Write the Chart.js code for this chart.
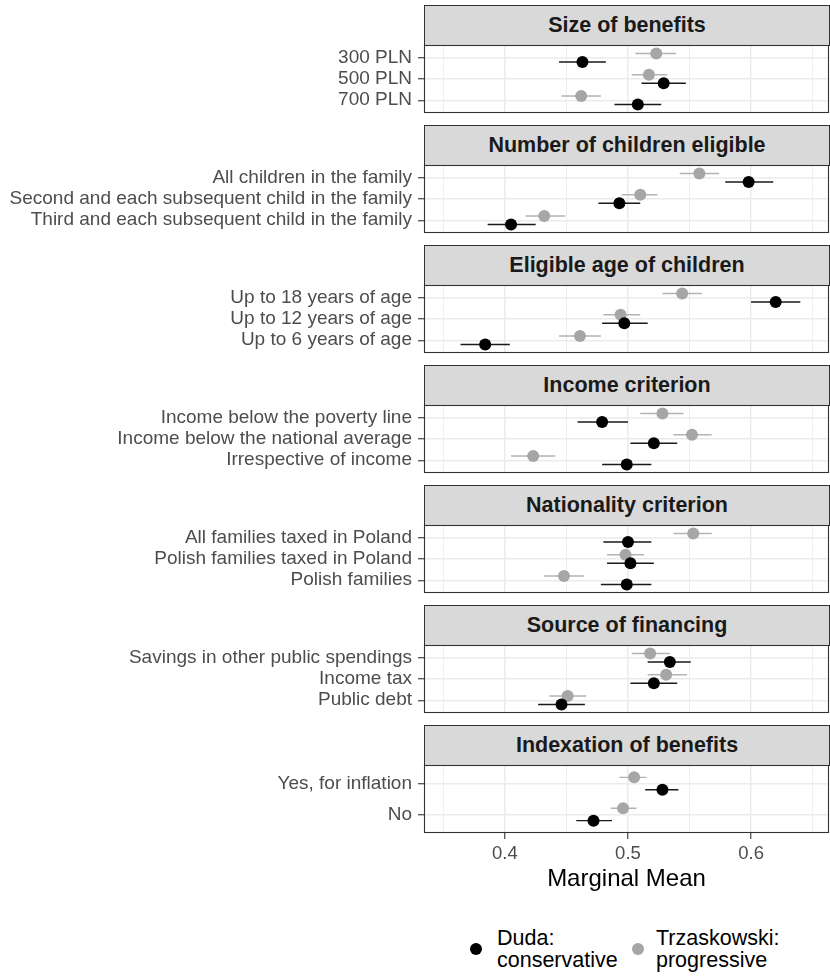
<!DOCTYPE html>
<html>
<head>
<meta charset="utf-8">
<script src="https://cdn.jsdelivr.net/npm/chart.js@4.4.0/dist/chart.umd.min.js"></script>
<style>
  body { margin: 0; background: #fff; font-family: "Liberation Sans", Arial, sans-serif; }
  #wrap { position: relative; width: 830px; height: 976px; overflow: hidden; }
  .strip {
    position: absolute; left: 424px; width: 406px; height: 41px; box-sizing: border-box;
    background: #d9d9d9; border: 1px solid #333; color: #1a1a1a;
    font-weight: bold; font-size: 21.5px; line-height: 38px; text-align: center;
  }
  .panel { position: absolute; left: 0; }
  .dot { position: absolute; width: 12px; height: 12px; border-radius: 50%; }
  .leg { position: absolute; font-size: 21.5px; line-height: 22px; color: #000; white-space: nowrap; }
</style>
</head>
<body>
<div id="wrap"></div>
<script>
// facet titles and attribute levels (top to bottom)
var panelTitles = ['Size of benefits', 'Number of children eligible', 'Eligible age of children',
    'Income criterion', 'Nationality criterion', 'Source of financing', 'Indexation of benefits'];

var levelLabels = [
    ['300 PLN', '500 PLN', '700 PLN'],
    ['All children in the family', 'Second and each subsequent child in the family', 'Third and each subsequent child in the family'],
    ['Up to 18 years of age', 'Up to 12 years of age', 'Up to 6 years of age'],
    ['Income below the poverty line', 'Income below the national average', 'Irrespective of income'],
    ['All families taxed in Poland', 'Polish families taxed in Poland', 'Polish families'],
    ['Savings in other public spendings', 'Income tax', 'Public debt'],
    ['Yes, for inflation', 'No']
];

// Duda: conservative
var dudaMean = [[0.463, 0.529, 0.508], [0.598, 0.493, 0.405], [0.620, 0.497, 0.384],
    [0.479, 0.521, 0.499], [0.500, 0.502, 0.499], [0.534, 0.521, 0.446], [0.528, 0.472]];
var dudaLow = [[0.444, 0.511, 0.489], [0.579, 0.476, 0.386], [0.600, 0.479, 0.364],
    [0.459, 0.502, 0.479], [0.480, 0.483, 0.478], [0.516, 0.502, 0.427], [0.514, 0.458]];
var dudaHigh = [[0.482, 0.547, 0.527], [0.618, 0.510, 0.425], [0.640, 0.516, 0.404],
    [0.500, 0.540, 0.519], [0.519, 0.521, 0.519], [0.551, 0.540, 0.465], [0.541, 0.487]];

// Trzaskowski: progressive
var trzMean = [[0.523, 0.517, 0.462], [0.558, 0.510, 0.432], [0.544, 0.494, 0.461],
    [0.528, 0.552, 0.423], [0.553, 0.498, 0.448], [0.518, 0.531, 0.451], [0.505, 0.496]];
var trzLow = [[0.506, 0.503, 0.446], [0.542, 0.495, 0.417], [0.528, 0.480, 0.444],
    [0.510, 0.537, 0.405], [0.537, 0.483, 0.432], [0.503, 0.516, 0.436], [0.493, 0.486]];
var trzHigh = [[0.539, 0.532, 0.478], [0.574, 0.524, 0.449], [0.560, 0.510, 0.478],
    [0.545, 0.568, 0.441], [0.568, 0.513, 0.464], [0.534, 0.548, 0.466], [0.515, 0.507]];

var xTicks = [0.35, 0.4, 0.45, 0.5, 0.55, 0.6, 0.65];
var xMin = 0.3343, xMax = 0.6633;
var dodge = 0.2;

function isMajor(v) {
    return Math.abs(v * 10 - Math.round(v * 10)) < 1e-6;
}

// grey20 border round each panel
var panelBorder = {
    id: 'panelBorder',
    afterDraw: function (chart) {
        var a = chart.chartArea, c = chart.ctx;
        c.save();
        c.strokeStyle = '#333';
        c.lineWidth = 1.1;
        c.strokeRect(a.left + 0.5, a.top + 0.5, a.right - a.left - 1, a.bottom - a.top - 1);
        c.restore();
    }
};

var wrap = document.getElementById('wrap');

for (let i = 0; i < panelTitles.length; i++) {
    let labels = levelLabels[i];
    let n = labels.length;
    let last = i == panelTitles.length - 1;
    let plotTop = 45 + 120 * i;

    let strip = document.createElement('div');
    strip.className = 'strip';
    strip.style.top = (plotTop - 40) + 'px';
    strip.textContent = panelTitles[i];
    wrap.appendChild(strip);

    let canvas = document.createElement('canvas');
    canvas.className = 'panel';
    canvas.width = 830;
    canvas.height = last ? 70 + 61 : 72;
    canvas.style.top = (plotTop - 2) + 'px';
    wrap.appendChild(canvas);

    let dudaPts = [], dudaCI = [], trzPts = [], trzCI = [];
    for (let j = 0; j < n; j++) {
        let yd = j + 1 + dodge, yt = j + 1 - dodge;
        dudaPts.push({ x: dudaMean[i][j], y: yd });
        dudaCI.push({ x: dudaLow[i][j], y: yd }, { x: dudaHigh[i][j], y: yd }, { x: null, y: null });
        trzPts.push({ x: trzMean[i][j], y: yt });
        trzCI.push({ x: trzLow[i][j], y: yt }, { x: trzHigh[i][j], y: yt }, { x: null, y: null });
    }

    new Chart(canvas.getContext('2d'), {
        type: 'line',
        data: {
            datasets: [
                { data: dudaPts, showLine: false, pointRadius: 6, pointBackgroundColor: '#000', pointBorderColor: '#000', pointBorderWidth: 0 },
                { data: dudaCI, borderColor: '#1a1a1a', borderWidth: 1.4, pointRadius: 0, spanGaps: false, fill: false },
                { data: trzPts, showLine: false, pointRadius: 6, pointBackgroundColor: '#a6a6a6', pointBorderColor: '#a6a6a6', pointBorderWidth: 0 },
                { data: trzCI, borderColor: '#b3b3b3', borderWidth: 1.4, pointRadius: 0, spanGaps: false, fill: false }
            ]
        },
        options: {
            responsive: false,
            animation: false,
            layout: { autoPadding: false, padding: { top: 2, right: 1, bottom: last ? 0 : 2, left: 0 } },
            plugins: { legend: { display: false }, tooltip: { enabled: false } },
            scales: {
                x: {
                    type: 'linear',
                    min: xMin,
                    max: xMax,
                    afterBuildTicks: function (s) { s.ticks = xTicks.map(function (v) { return { value: v }; }); },
                    afterFit: function (s) {
                        s.height = last ? 61 : 0;
                        s.paddingLeft = 0; s.paddingRight = 0; s.paddingTop = 0; s.paddingBottom = 0;
                    },
                    ticks: {
                        display: last,
                        autoSkip: false,
                        maxRotation: 0,
                        padding: 4,
                        color: '#4d4d4d',
                        font: { family: '"Liberation Sans", Arial, sans-serif', size: 18.5 },
                        callback: function (v) { return isMajor(v) ? v.toFixed(1) : ''; }
                    },
                    grid: {
                        color: '#ebebeb',
                        lineWidth: function (ctx) { return isMajor(ctx.tick.value) ? 1.5 : 0.8; },
                        drawTicks: last,
                        tickLength: 6,
                        tickWidth: 1.1,
                        tickColor: function (ctx) { return isMajor(ctx.tick.value) ? '#333' : 'rgba(0,0,0,0)'; }
                    },
                    border: { display: false },
                    title: {
                        display: last,
                        text: 'Marginal Mean',
                        color: '#000',
                        padding: { top: 0, bottom: 0 },
                        font: { family: '"Liberation Sans", Arial, sans-serif', size: 24 }
                    }
                },
                y: {
                    type: 'linear',
                    reverse: true,
                    min: 0.4,
                    max: n + 0.6,
                    afterBuildTicks: function (s) { s.ticks = labels.map(function (l, j) { return { value: j + 1 }; }); },
                    afterFit: function (s) {
                        s.width = 424;
                        s.paddingLeft = 0; s.paddingRight = 0; s.paddingTop = 0; s.paddingBottom = 0;
                    },
                    ticks: {
                        autoSkip: false,
                        padding: 6,
                        color: '#4d4d4d',
                        font: { family: '"Liberation Sans", Arial, sans-serif', size: 19 },
                        callback: function (v, idx) { return labels[idx]; }
                    },
                    grid: { color: '#ebebeb', lineWidth: 1.5, tickLength: 6, tickWidth: 1.1, tickColor: '#333' },
                    border: { display: false }
                }
            }
        },
        plugins: [panelBorder]
    });
}

// legend at the bottom
var legendItems = [
    { color: '#000', dotLeft: 470, textLeft: 497, text: ['Duda:', 'conservative'] },
    { color: '#a6a6a6', dotLeft: 632, textLeft: 656, text: ['Trzaskowski:', 'progressive'] }
];
legendItems.forEach(function (it) {
    var d = document.createElement('div');
    d.className = 'dot';
    d.style.background = it.color;
    d.style.left = it.dotLeft + 'px';
    d.style.top = '943px';
    wrap.appendChild(d);
    var t = document.createElement('div');
    t.className = 'leg';
    t.style.left = it.textLeft + 'px';
    t.style.top = '927px';
    t.innerHTML = it.text.join('<br>');
    wrap.appendChild(t);
});
</script>
</body>
</html>
